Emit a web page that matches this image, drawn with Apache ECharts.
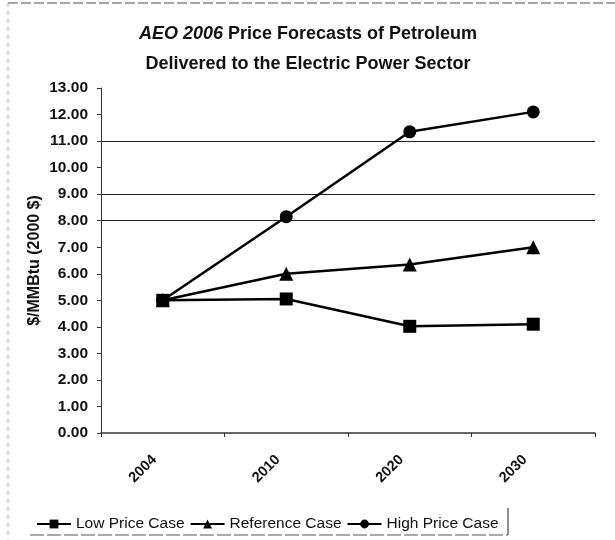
<!DOCTYPE html>
<html>
<head>
<meta charset="utf-8">
<script src="https://cdn.jsdelivr.net/npm/echarts@6/dist/echarts.min.js"></script>
<style>
  html, body { margin: 0; padding: 0; background: #fff; }
  #chart { width: 615px; height: 540px; }
</style>
</head>
<body>
<div id="chart"></div>
<script>
// Forecast years and price cases ($/MMBtu, 2000 dollars)
const years = ['2004', '2010', '2020', '2030'];
const lowPrice = [5.0, 5.05, 4.02, 4.1];
const referenceCase = [5.0, 6.0, 6.35, 7.0];
const highPrice = [5.0, 8.15, 11.35, 12.1];
const seriesNames = ['Low Price Case', 'Reference Case', 'High Price Case'];

// Horizontal rules drawn only at these values (0..13 tick positions)
const ruleValues = [8, 9, 11];
const splitColors = [];
for (let v = 0; v <= 13; v++) {
  splitColors.push(ruleValues.indexOf(v) >= 0 ? '#222' : 'rgba(0,0,0,0)');
}

const font = 'Liberation Sans, Arial, sans-serif';
const chart = echarts.init(document.getElementById('chart'));

function lineSeries(name, data, symbol, size) {
  return {
    name: name,
    type: 'line',
    data: data,
    symbol: symbol,
    symbolSize: size,
    lineStyle: { color: '#000', width: 2.5 },
    itemStyle: { color: '#000' },
    animation: false
  };
}

chart.setOption({
  backgroundColor: '#fff',
  animation: false,
  title: {
    text: '{i|AEO 2006} Price Forecasts of Petroleum\nDelivered to the Electric Power Sector',
    left: 303,
    top: 14,
    textAlign: 'center',
    textStyle: {
      fontFamily: font,
      fontSize: 18,
      fontWeight: 'bold',
      color: '#111',
      lineHeight: 30,
      rich: {
        i: { fontFamily: font, fontSize: 18, fontWeight: 'bold', fontStyle: 'italic', color: '#111' }
      }
    }
  },
  grid: { left: 101, right: 20, top: 88, bottom: 107, containLabel: false },
  xAxis: {
    type: 'category',
    data: years,
    boundaryGap: true,
    axisLine: { lineStyle: { color: '#333', width: 1.5 } },
    axisTick: { show: true, length: 4, lineStyle: { color: '#333' } },
    axisLabel: {
      rotate: 45,
      margin: 16,
      padding: [0, 12, 0, 0],
      fontFamily: font,
      fontSize: 14.5,
      fontWeight: 'bold',
      color: '#111'
    }
  },
  yAxis: {
    type: 'value',
    min: 0,
    max: 13,
    interval: 1,
    name: '$/MMBtu (2000 $)',
    nameLocation: 'middle',
    nameGap: 58,
    nameMoveOverlap: false,
    nameTextStyle: { fontFamily: font, fontSize: 16, fontWeight: 'bold', color: '#111' },
    axisLine: { show: true, lineStyle: { color: '#333', width: 1 } },
    axisTick: { show: true, length: 4, lineStyle: { color: '#333' } },
    axisLabel: {
      margin: 13,
      fontFamily: font,
      fontSize: 15.5,
      fontWeight: 'bold',
      color: '#111',
      formatter: v => v.toFixed(2)
    },
    splitLine: { show: true, lineStyle: { color: splitColors, width: 1 } }
  },
  legend: {
    data: seriesNames,
    top: 516,
    left: 33,
    itemWidth: 34,
    itemHeight: 11,
    itemGap: 5,
    padding: [0, 0, 0, 3],
    textStyle: { fontFamily: font, fontSize: 15.5, color: '#111' }
  },
  series: [
    lineSeries(seriesNames[0], lowPrice, 'rect', 13),
    lineSeries(seriesNames[1], referenceCase, 'triangle', 14),
    lineSeries(seriesNames[2], highPrice, 'circle', 13)
  ],
  graphic: [
    // page frame
    { type: 'line', shape: { x1: 8, y1: 3, x2: 615, y2: 3 }, style: { stroke: '#888', lineWidth: 1.5, lineDash: [10, 3] } },
    { type: 'line', shape: { x1: 8, y1: 3, x2: 8, y2: 540 }, style: { stroke: '#aaa', lineWidth: 1, lineDash: [4, 4] } },
    // legend frame (right and bottom edges)
    { type: 'line', shape: { x1: 508, y1: 508, x2: 508, y2: 535 }, style: { stroke: '#222', lineWidth: 1 } },
    { type: 'line', shape: { x1: 30, y1: 535, x2: 508, y2: 535 }, style: { stroke: '#555', lineWidth: 1, lineDash: [14, 3] } }
  ]
});
</script>
</body>
</html>
